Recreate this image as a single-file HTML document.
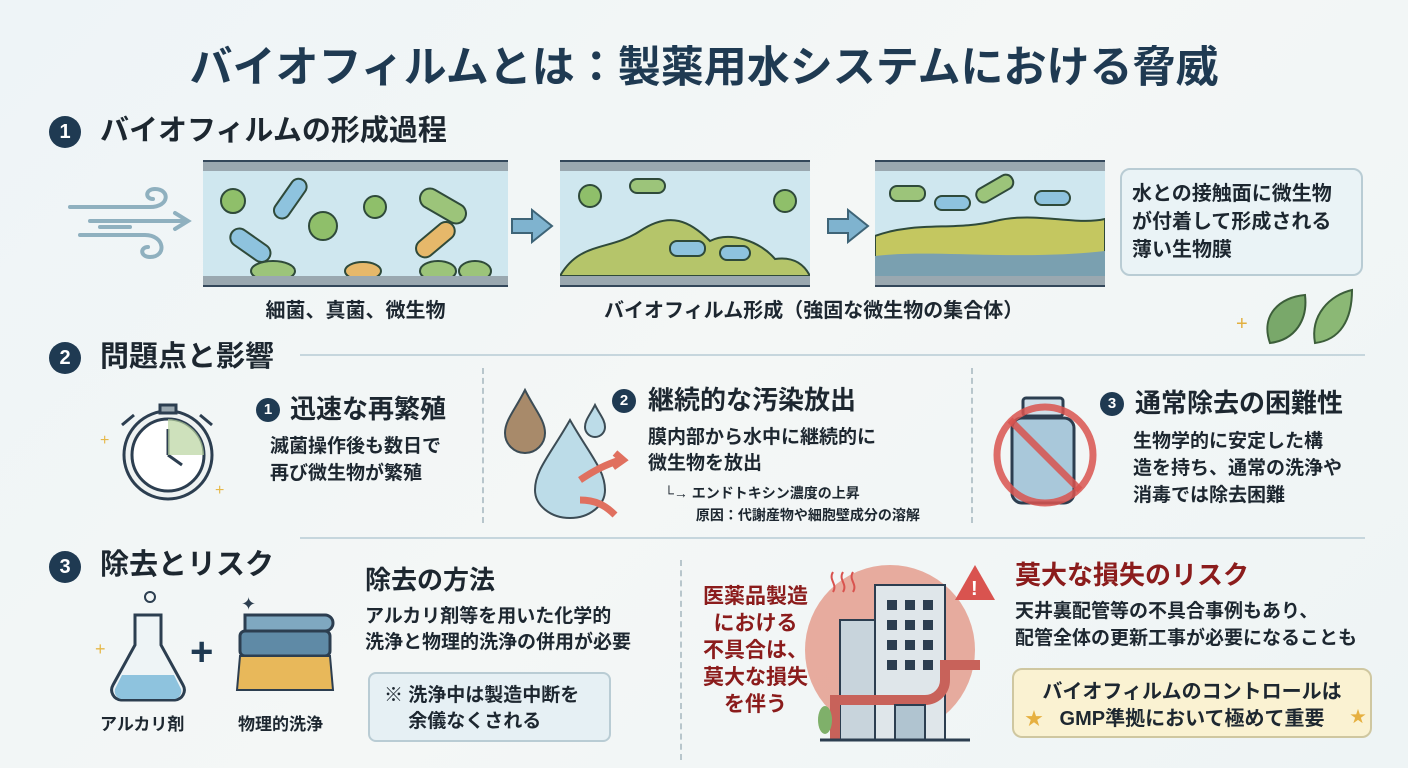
<!DOCTYPE html>
<html><head><meta charset="utf-8"><style>
*{margin:0;padding:0;box-sizing:border-box}
body{width:1408px;height:768px;overflow:hidden;position:relative;background:linear-gradient(135deg,#eef4f7 0%,#f4f7f6 50%,#eef4f5 100%);font-family:"Liberation Sans","Noto Sans CJK JP",sans-serif;color:#1d2730}
.a{position:absolute;line-height:1;white-space:nowrap}
.b{font-weight:700}
.num{position:absolute;border-radius:50%;background:#1f3a52;color:#fff;font-weight:700;text-align:center}
.pipe{position:absolute;background:#cfe7ef;border-top:9px solid #9aa8b0;border-bottom:9px solid #9aa8b0;overflow:hidden}
.pl{position:absolute;height:2px;background:#33475a}
.hl{position:absolute;height:2px;background:#c6d6dd}
.vd{position:absolute;width:0;border-left:2px dashed #b8c6cc}
</style></head><body>

<div class="a b" style="left:0;width:1408px;text-align:center;top:47px;font-size:43px;color:#1f3a52">バイオフィルムとは：製薬用水システムにおける脅威</div>

<!-- Section 1 -->
<div class="num" style="left:49px;top:116px;width:32px;height:32px;line-height:32px;font-size:20px">1</div>
<div class="a b" style="left:100px;top:117px;font-size:29px">バイオフィルムの形成過程</div>

<svg style="position:absolute;left:60px;top:185px" width="135" height="80"><g fill="none" stroke="#8fb0bf" stroke-width="4" stroke-linecap="round"><path d="M10 22 H90 c20 0 20-18 5-18 c-10 0-10 10-2 10"/><path d="M30 36 H125"/><path d="M115 28 L128 36 L115 44"/><path d="M20 50 H85 c20 0 22 22 5 22 c-10 0-10-10-2-10"/><path d="M40 42 H70"/></g></svg>

<div class="pipe" style="left:203px;top:162px;width:305px;height:123px">
<svg style="position:absolute;left:0;top:0" width="305" height="105"><g stroke="#2f4a3a" stroke-width="2">
<circle cx="30" cy="30" r="12" fill="#8fbf6a"/><circle cx="120" cy="55" r="14" fill="#8fbf6a"/><circle cx="172" cy="36" r="11" fill="#8fbf6a"/>
<rect x="215" y="25" width="50" height="20" rx="10" fill="#9cc47a" transform="rotate(30 240 35)"/>
<rect x="210" y="60" width="45" height="18" rx="9" fill="#e6b86a" transform="rotate(-40 232 69)"/>
<rect x="65" y="20" width="45" height="16" rx="8" fill="#8ec3de" transform="rotate(-55 87 28)"/>
<rect x="25" y="65" width="45" height="18" rx="9" fill="#8ec3de" transform="rotate(35 47 74)"/>
<ellipse cx="70" cy="100" rx="22" ry="10" fill="#9cc47a"/><ellipse cx="160" cy="100" rx="18" ry="9" fill="#e6b86a"/><ellipse cx="235" cy="100" rx="18" ry="10" fill="#9cc47a"/><ellipse cx="272" cy="100" rx="16" ry="10" fill="#9cc47a"/></g></svg></div>
<div class="pipe" style="left:560px;top:162px;width:250px;height:123px">
<svg style="position:absolute;left:0;top:0" width="250" height="105"><path d="M0 105 C20 70 50 80 80 60 C110 40 130 50 150 70 C170 60 200 70 215 88 C235 85 245 95 250 105Z" fill="#b5c56a" stroke="#2f4a3a" stroke-width="2"/>
<g stroke="#2f4a3a" stroke-width="2"><circle cx="30" cy="25" r="11" fill="#8fbf6a"/><circle cx="225" cy="30" r="11" fill="#8fbf6a"/><rect x="110" y="70" width="35" height="15" rx="7" fill="#8ec3de"/><rect x="70" y="8" width="35" height="14" rx="7" fill="#9cc47a"/><rect x="160" y="75" width="30" height="14" rx="7" fill="#8ec3de"/></g></svg></div>
<div class="pipe" style="left:875px;top:162px;width:230px;height:123px">
<svg style="position:absolute;left:0;top:0" width="230" height="105"><path d="M0 105 V65 C40 50 80 60 120 50 C160 40 200 55 230 48 V105Z" fill="#c4c760" stroke="#2f4a3a" stroke-width="2"/><path d="M0 105 V85 C60 78 140 90 230 80 V105Z" fill="#7aa0b0"/>
<g stroke="#2f4a3a" stroke-width="2"><rect x="15" y="15" width="35" height="15" rx="7" fill="#9cc47a"/><rect x="100" y="10" width="40" height="15" rx="7" fill="#9cc47a" transform="rotate(-30 120 18)"/><rect x="160" y="20" width="35" height="14" rx="7" fill="#8ec3de"/><rect x="60" y="25" width="35" height="14" rx="7" fill="#8ec3de"/></g></svg></div>
<div class="pl" style="left:203px;top:160px;width:305px"></div><div class="pl" style="left:203px;top:285px;width:305px"></div>
<div class="pl" style="left:560px;top:160px;width:250px"></div><div class="pl" style="left:560px;top:285px;width:250px"></div>
<div class="pl" style="left:875px;top:160px;width:230px"></div><div class="pl" style="left:875px;top:285px;width:230px"></div>

<svg style="position:absolute;left:510px;top:208px" width="45" height="36"><path d="M2 11 H22 V2 L42 18 L22 34 V25 H2Z" fill="#7fb3cf" stroke="#3e6477" stroke-width="2"/></svg>
<svg style="position:absolute;left:826px;top:208px" width="45" height="36"><path d="M2 11 H22 V2 L42 18 L22 34 V25 H2Z" fill="#7fb3cf" stroke="#3e6477" stroke-width="2"/></svg>

<div class="a b" style="left:203px;width:305px;text-align:center;top:301px;font-size:20px">細菌、真菌、微生物</div>
<div class="a b" style="left:604px;top:301px;font-size:20px">バイオフィルム形成（強固な微生物の集合体）</div>

<div style="position:absolute;left:1120px;top:168px;width:243px;height:108px;border:2px solid #b9ccd4;border-radius:10px;background:#eaf3f6"></div>
<div class="a b" style="left:1132px;top:180px;font-size:20px;line-height:28px">水との接触面に微生物<br>が付着して形成される<br>薄い生物膜</div>
<svg style="position:absolute;left:1230px;top:285px" width="125" height="62"><text x="6" y="45" font-size="20" fill="#e2b040">+</text><path d="M40 58 C30 30 50 12 75 10 C78 35 65 55 40 58Z" fill="#79a86a" stroke="#3c5e3a" stroke-width="2"/><path d="M85 58 C80 30 100 10 122 5 C122 35 110 55 85 58Z" fill="#8bb875" stroke="#3c5e3a" stroke-width="2"/></svg>

<!-- Section 2 -->
<div class="num" style="left:49px;top:342px;width:32px;height:32px;line-height:32px;font-size:20px">2</div>
<div class="a b" style="left:100px;top:343px;font-size:29px">問題点と影響</div>
<div class="hl" style="left:300px;top:354px;width:1065px"></div>
<div class="vd" style="left:482px;top:368px;height:155px"></div>
<div class="vd" style="left:971px;top:368px;height:155px"></div>

<svg style="position:absolute;left:100px;top:385px" width="140" height="125"><g stroke="#2c3e50" stroke-width="3" fill="none"><circle cx="68" cy="70" r="44" fill="#eef2f2"/><circle cx="68" cy="70" r="36" fill="#fff"/><path d="M68 70 V44 M68 70 L82 80"/><rect x="60" y="20" width="16" height="8" fill="#9aa8b0"/><path d="M22 40 L34 30 M112 40 L100 30"/></g><path d="M68 34 A36 36 0 0 1 104 70 L68 70Z" fill="#b9d4a0" opacity=".7"/><g fill="#e6b84a" font-size="16"><text x="0" y="60">+</text><text x="115" y="110">+</text></g></svg>
<div class="num" style="left:256px;top:398px;width:24px;height:24px;line-height:24px;font-size:15px">1</div>
<div class="a b" style="left:290px;top:396px;font-size:26px">迅速な再繁殖</div>
<div class="a b" style="left:270px;top:433px;font-size:19px;line-height:27px">滅菌操作後も数日で<br>再び微生物が繁殖</div>

<svg style="position:absolute;left:495px;top:385px" width="135" height="135"><path d="M30 5 C20 25 10 35 10 48 a20 20 0 0 0 40 0 C50 35 40 25 30 5Z" fill="#a88a6a" stroke="#3c4c55" stroke-width="2"/><path d="M75 35 C55 70 40 85 40 105 a35 28 0 0 0 70 0 C110 85 95 70 75 35Z" fill="#bcdce8" stroke="#3c4c55" stroke-width="2"/><path d="M100 20 C95 30 90 35 90 42 a10 10 0 0 0 20 0 C110 35 105 30 100 20Z" fill="#bcdce8" stroke="#3c4c55" stroke-width="2"/><path d="M85 95 C100 85 110 80 125 75 M120 68 L128 75 L118 82" stroke="#e0705f" stroke-width="7" fill="none"/><path d="M85 115 C100 115 110 120 120 130" stroke="#e0705f" stroke-width="7" fill="none"/></svg>
<div class="num" style="left:612px;top:389px;width:24px;height:24px;line-height:24px;font-size:15px">2</div>
<div class="a b" style="left:648px;top:387px;font-size:26px">継続的な汚染放出</div>
<div class="a b" style="left:648px;top:425px;font-size:19px;line-height:26px">膜内部から水中に継続的に<br>微生物を放出</div>
<div class="a b" style="left:664px;top:482px;font-size:14px;line-height:22px">└→ エンドトキシン濃度の上昇<br>　　 原因：代謝産物や細胞壁成分の溶解</div>

<svg style="position:absolute;left:990px;top:390px" width="110" height="125"><rect x="33" y="8" width="40" height="18" rx="3" fill="#cfe0ea" stroke="#2c3e50" stroke-width="3"/><rect x="22" y="28" width="62" height="85" rx="10" fill="#a9c8da" stroke="#2c3e50" stroke-width="3"/><circle cx="55" cy="65" r="48" fill="none" stroke="#d9534f" stroke-width="7" opacity=".85"/><path d="M20 30 L90 100" stroke="#d9534f" stroke-width="7" opacity=".85"/></svg>
<div class="num" style="left:1100px;top:392px;width:24px;height:24px;line-height:24px;font-size:15px">3</div>
<div class="a b" style="left:1135px;top:390px;font-size:26px">通常除去の困難性</div>
<div class="a b" style="left:1133px;top:428px;font-size:19px;line-height:27px">生物学的に安定した構<br>造を持ち、通常の洗浄や<br>消毒では除去困難</div>

<!-- Section 3 -->
<div class="hl" style="left:300px;top:537px;width:1065px"></div>
<div class="num" style="left:49px;top:551px;width:32px;height:32px;line-height:32px;font-size:20px">3</div>
<div class="a b" style="left:100px;top:551px;font-size:29px">除去とリスク</div>

<svg style="position:absolute;left:95px;top:585px" width="250" height="125"><path d="M40 30 V60 L18 100 a10 10 0 0 0 8 15 H80 a10 10 0 0 0 8 -15 L66 60 V30Z" fill="#eef4f6" stroke="#2c3e50" stroke-width="3"/><path d="M27 90 H79 L86 104 a8 8 0 0 1 -6 10 H26 a8 8 0 0 1 -6 -10Z" fill="#8ec3de"/><circle cx="55" cy="12" r="5" fill="none" stroke="#2c3e50" stroke-width="2"/><text x="0" y="70" font-size="18" fill="#e6b84a">+</text><text x="95" y="80" font-size="40" font-weight="700" fill="#1f3a52">+</text><path d="M150 30 H230 a8 8 0 0 1 0 16 H150Z" fill="#7fa8c0" stroke="#2c3e50" stroke-width="3"/><rect x="145" y="46" width="90" height="25" rx="5" fill="#5f8aa6" stroke="#2c3e50" stroke-width="3"/><path d="M145 71 H235 L238 105 H142Z" fill="#e8b85a" stroke="#2c3e50" stroke-width="2"/><text x="146" y="25" font-size="18" fill="#2c3e50">✦</text></svg>
<div class="a b" style="left:100px;top:716px;font-size:17px">アルカリ剤</div>
<div class="a b" style="left:238px;top:716px;font-size:17px">物理的洗浄</div>

<div class="a b" style="left:365px;top:567px;font-size:26px">除去の方法</div>
<div class="a b" style="left:365px;top:604px;font-size:19px;line-height:26px">アルカリ剤等を用いた化学的<br>洗浄と物理的洗浄の併用が必要</div>
<div style="position:absolute;left:368px;top:672px;width:243px;height:70px;border:2px solid #b9ccd4;border-radius:8px;background:#e6f0f4"></div>
<div class="a b" style="left:384px;top:683px;font-size:19px;line-height:26px">※ 洗浄中は製造中断を<br>　 余儀なくされる</div>

<div class="vd" style="left:680px;top:560px;height:200px"></div>

<svg style="position:absolute;left:795px;top:555px" width="220" height="205"><circle cx="95" cy="95" r="85" fill="#e49888" opacity=".8"/><rect x="45" y="65" width="50" height="120" fill="#c8d4dc" stroke="#2c3e50" stroke-width="2"/><rect x="80" y="30" width="70" height="155" fill="#dfe6ea" stroke="#2c3e50" stroke-width="2"/><g fill="#2c3e50"><rect x="92" y="45" width="10" height="10"/><rect x="110" y="45" width="10" height="10"/><rect x="128" y="45" width="10" height="10"/><rect x="92" y="65" width="10" height="10"/><rect x="110" y="65" width="10" height="10"/><rect x="128" y="65" width="10" height="10"/><rect x="92" y="85" width="10" height="10"/><rect x="110" y="85" width="10" height="10"/><rect x="128" y="85" width="10" height="10"/><rect x="92" y="105" width="10" height="10"/><rect x="110" y="105" width="10" height="10"/><rect x="128" y="105" width="10" height="10"/></g><path d="M40 185 V145 H130 a20 20 0 0 0 20 -20 V110 H185" stroke="#c8625a" stroke-width="10" fill="none"/><rect x="100" y="150" width="30" height="35" fill="#b0c4d0" stroke="#2c3e50" stroke-width="2"/><path d="M160 45 L180 10 L200 45Z" fill="#d9534f"/><text x="176" y="40" font-size="20" font-weight="700" fill="#fff">!</text><ellipse cx="30" cy="165" rx="7" ry="14" fill="#7fb06a"/><path d="M25 185 H175" stroke="#2c3e50" stroke-width="3"/><path d="M38 17 c-5 8 5 12 0 20 M48 17 c-5 8 5 12 0 20 M58 17 c-5 8 5 12 0 20" stroke="#d9534f" stroke-width="2" fill="none"/></svg>
<div class="a b" style="left:693px;width:125px;text-align:center;top:583px;font-size:21px;line-height:27px;color:#8b1c1c">医薬品製造<br>における<br>不具合は、<br>莫大な損失<br>を伴う</div>

<div class="a b" style="left:1015px;top:562px;font-size:26px;color:#8b1c1c">莫大な損失のリスク</div>
<div class="a b" style="left:1015px;top:598px;font-size:19px;line-height:27px">天井裏配管等の不具合事例もあり、<br>配管全体の更新工事が必要になることも</div>
<div style="position:absolute;left:1012px;top:668px;width:360px;height:70px;border:2px solid #cfc7a0;border-radius:10px;background:#faf2d2"></div>
<div class="a b" style="left:1012px;width:360px;text-align:center;top:679px;font-size:20px;line-height:27px">バイオフィルムのコントロールは<br>GMP準拠において極めて重要</div>
<div class="a" style="left:1025px;top:710px;font-size:18px;color:#e6b040">★</div>
<div class="a" style="left:1350px;top:710px;font-size:16px;color:#e6b040">★</div>
</body></html>
